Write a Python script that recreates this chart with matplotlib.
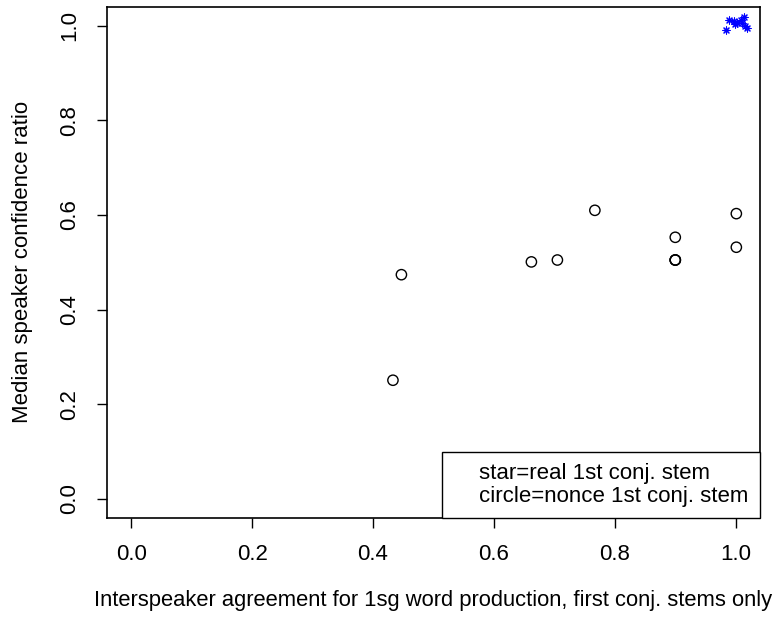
import matplotlib
matplotlib.use("Agg")
import matplotlib.pyplot as plt
from matplotlib.lines import Line2D

plt.rcParams['font.family'] = ['Liberation Sans', 'DejaVu Sans']

# nonce 1st conj. stems (circles)
nonce_agree = [0.433, 0.447, 0.662, 0.705, 0.767, 0.900, 0.900, 0.900, 0.900, 1.001, 1.001]
nonce_conf = [0.251, 0.474, 0.501, 0.505, 0.610, 0.553, 0.505, 0.505, 0.505, 0.603, 0.532]

# real 1st conj. stems (stars)
real_agree = [0.989, 0.984, 0.997, 1.002, 1.014, 1.011, 1.016, 1.019, 1.008, 0.999]
real_conf = [1.013, 0.991, 1.010, 1.006, 1.019, 1.006, 0.999, 0.996, 1.013, 1.003]

ticks = [0.0, 0.2, 0.4, 0.6, 0.8, 1.0]
tick_labels = ['0.0', '0.2', '0.4', '0.6', '0.8', '1.0']

fig = plt.figure(figsize=(7.81, 6.17), dpi=100)
ax = fig.add_axes([0.137, 0.1605, 0.836, 0.8285])

ax.scatter(nonce_agree, nonce_conf, s=55, facecolors='none', edgecolors='black', linewidths=1.0)
ax.scatter(real_agree, real_conf, s=26, marker=(8, 2, 0), color='blue', linewidths=0.8)

ax.set_xlim(-0.04, 1.04)
ax.set_ylim(-0.04, 1.04)
ax.set_xticks(ticks)
ax.set_xticklabels(tick_labels)
ax.set_yticks(ticks)
ax.set_yticklabels(tick_labels, rotation=90, va='center')
ax.tick_params(direction='out', length=7, width=1, labelsize=16)
ax.tick_params(axis='x', pad=12)
ax.tick_params(axis='y', pad=12)
for sp in ax.spines.values():
    sp.set_linewidth(1.2)

ax.set_xlabel('Interspeaker agreement for 1sg word production, first conj. stems only',
              fontsize=15.8, labelpad=18)
ax.set_ylabel('Median speaker confidence ratio', fontsize=16, labelpad=19)

handles = [Line2D([], [], linestyle='none'), Line2D([], [], linestyle='none')]
leg = ax.legend(handles, ['star=real 1st conj. stem', 'circle=nonce 1st conj. stem'],
                loc='lower right', borderaxespad=0, fancybox=False, fontsize=16,
                handlelength=1.0, handletextpad=0.2, borderpad=0.5, labelspacing=0.1,
                edgecolor='black', framealpha=1)
leg.get_frame().set_linewidth(1.0)

plt.savefig('out.png', dpi=100)
